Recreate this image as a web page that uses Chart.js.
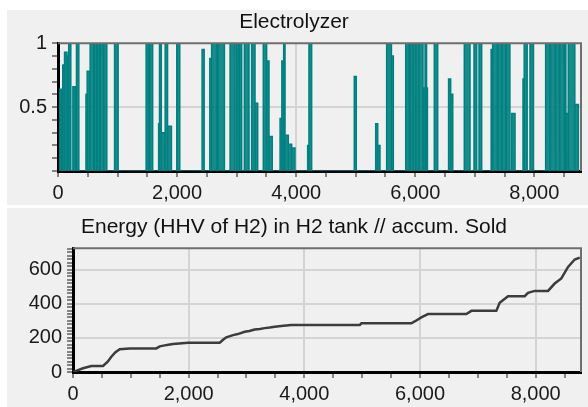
<!DOCTYPE html>
<html>
<head>
<meta charset="utf-8">
<script src="https://cdn.jsdelivr.net/npm/chart.js@4"></script>
<style>
  body { margin: 0; background: #fff; width: 588px; height: 407px; position: relative; overflow: hidden; }
  canvas { position: absolute; }
  #elec { left: 7px; top: 10px; }
  #tank { left: 7px; top: 208px; }
</style>
</head>
<body>
<canvas id="elec" width="581" height="195"></canvas>
<canvas id="tank" width="581" height="199"></canvas>
<script>
// electrolyzer load: each run is [start hour, end hour] at a load level (0..1)
const elecStart = [30, 80, 110, 150, 180, 250, 310, 470, 490, 540, 610, 660, 710, 770, 950, 1480, 1540,
  1690, 1705, 1735, 1800, 1840, 1995, 2420, 2550, 2580, 2690, 2890, 3000, 3050, 3130, 3252, 3309,
  3448, 3504, 3544, 3730, 3760, 3790, 3813, 3868, 3925, 4193, 4215, 4976, 5336, 5370, 5520, 5600,
  5840, 5905, 5915, 5965, 6015, 6065, 6135, 6165, 6190, 6320, 6560, 6595, 6824, 6987, 7071, 7275,
  7300, 7390, 7460, 7530, 7620, 7810, 7830, 7927, 8190, 8270, 8360, 8430, 8510, 8530, 8570, 8680]
const elecEnd = [60, 110, 150, 180, 215, 290, 350, 490, 530, 600, 650, 700, 760, 820, 1010, 1520, 1590,
  1705, 1735, 1790, 1840, 1905, 2045, 2455, 2580, 2665, 2795, 2973, 3040, 3085, 3208, 3309, 3354,
  3504, 3544, 3599, 3760, 3790, 3813, 3868, 3925, 3980, 4215, 4260, 5010, 5370, 5408, 5600, 5632,
  5896, 5915, 5960, 6010, 6060, 6130, 6165, 6190, 6205, 6377, 6595, 6630, 6920, 7032, 7116, 7300,
  7380, 7450, 7520, 7590, 7676, 7830, 7880, 7983, 8260, 8350, 8420, 8500, 8530, 8570, 8680, 8740]
const elecLevel = [0.64, 0.83, 0.93, 0.9, 1, 0.66, 1, 0.6, 0.78, 1, 1, 1, 1, 1, 1, 1, 1,
  0.37, 1, 0.3, 1, 0.35, 1, 0.95, 0.88, 1, 1, 1, 1, 1, 1, 1, 0.53,
  1, 0.86, 0.27, 0.41, 0.86, 1, 0.28, 0.21, 0.18, 0.2, 1, 0.74, 0.37, 0.2, 1, 0.9,
  1, 0.85, 1, 1, 1, 1, 0.65, 1, 0.65, 1, 0.72, 0.6, 1, 1, 1, 0.95,
  1, 1, 1, 1, 0.45, 0.72, 1, 1, 1, 1, 1, 1, 1, 0.45, 1, 0.52]

// accumulated energy sold (H2 tank)
const soldHours = [0, 173, 317, 519, 600, 663, 730, 807, 980, 1441, 1500, 1585, 1650, 1729, 1989, 2537,
  2600, 2651, 2767, 2850, 2969, 3050, 3142, 3230, 3315, 3400, 3488, 3600, 3775, 4958, 4986, 5850,
  5908, 6023, 6138, 6801, 6888, 7320, 7378, 7522, 7810, 7868, 7983, 8214, 8329, 8444, 8560, 8675,
  8762]
const soldEnergy = [0, 22, 35, 35, 60, 89, 115, 133, 138, 138, 150, 156, 160, 164, 171, 171,
  190, 203, 216, 222, 236, 240, 249, 252, 257, 260, 265, 270, 275, 275, 285, 285,
  296, 320, 339, 339, 358, 358, 405, 444, 444, 464, 475, 475, 518, 548, 615, 659,
  670]

const HOURS = 8784
const FONT = "'Liberation Sans', Arial, sans-serif"
const TEAL = "rgb(0, 128, 128)"

const elecPoints = []
elecStart.forEach((s, i) => {
    elecPoints.push({ x: s, y: 0 }, { x: s, y: elecLevel[i] }, { x: elecEnd[i], y: elecLevel[i] }, { x: elecEnd[i], y: 0 })
})
const soldPoints = soldHours.map((h, i) => ({ x: h, y: soldEnergy[i] }))

const panel = {
    id: "panel",
    beforeDraw(chart) {
        const ctx = chart.ctx
        ctx.save()
        ctx.fillStyle = "#f0f0f0"
        ctx.fillRect(0, 0, chart.width, chart.height)
        ctx.restore()
    },
    afterDatasetsDraw(chart) {
        const { ctx, chartArea: a } = chart
        ctx.save()
        ctx.strokeStyle = "#6e6e6e"
        ctx.lineWidth = 2
        ctx.beginPath()
        ctx.moveTo(a.left, a.top)
        ctx.lineTo(a.right, a.top)
        ctx.lineTo(a.right, a.bottom)
        ctx.stroke()
        ctx.restore()
    },
}

const near = (a, b) => Math.abs(a - b) < 1e-6

function xAxis(height) {
    return {
        type: "linear",
        min: 0,
        max: HOURS,
        afterBuildTicks: (scale) => {
            scale.ticks = []
            for (let v = 0; v <= HOURS; v += 500) scale.ticks.push({ value: v })
        },
        afterFit: (scale) => { scale.height = height },
        ticks: {
            autoSkip: false,
            maxRotation: 0,
            padding: 4,
            color: "#1a1a1a",
            font: { family: FONT, size: 20 },
            callback: (v) => (v % 2000 === 0 ? v.toLocaleString("en-US") : ""),
        },
        grid: {
            color: (c) => (c.tick && c.tick.value % 2000 === 0 && c.tick.value > 0 ? "#d4d4d4" : "transparent"),
            lineWidth: 2,
            tickColor: "#606060",
            tickLength: 6,
            tickWidth: 1.5,
        },
        border: { display: true, color: "#000", width: 3 },
    }
}

function yAxis(width, max, step, isMajor, label) {
    return {
        min: 0,
        max,
        afterBuildTicks: (scale) => {
            scale.ticks = []
            for (let i = 0; i * step <= max + 1e-9; i++) scale.ticks.push({ value: Math.round(i * step * 1000) / 1000 })
        },
        afterFit: (scale) => { scale.width = width },
        ticks: {
            autoSkip: false,
            padding: 5,
            color: "#1a1a1a",
            font: { family: FONT, size: 20 },
            callback: label,
        },
        grid: {
            color: (c) => (c.tick && isMajor(c.tick.value) && c.tick.value > 0 && !near(c.tick.value, max) ? "#d4d4d4" : "transparent"),
            lineWidth: 2,
            tickColor: "#606060",
            tickLength: 6,
            tickWidth: 1.5,
        },
        border: { display: true, color: "#000", width: 3 },
    }
}

function titleOpts(text, top) {
    return {
        display: true,
        text,
        color: "#111",
        font: { family: FONT, size: 21, weight: "normal" },
        padding: { top, bottom: 8 },
    }
}

new Chart(document.getElementById("elec"), {
    type: "line",
    data: {
        datasets: [{
            data: elecPoints,
            borderColor: TEAL,
            backgroundColor: "rgba(0, 128, 128, 0.9)",
            borderWidth: 1.5,
            fill: "origin",
            pointRadius: 0,
            tension: 0,
        }],
    },
    options: {
        responsive: false,
        animation: false,
        devicePixelRatio: 1,
        layout: { padding: { left: 0, right: 7, top: 0, bottom: 0 } },
        plugins: {
            legend: { display: false },
            tooltip: { enabled: false },
            title: titleOpts("Electrolyzer", 0),
        },
        scales: {
            x: xAxis(34),
            y: yAxis(51, 1, 0.1, (v) => near(v, 0.5), (v) => (near(v, 1) ? "1" : near(v, 0.5) ? "0.5" : "")),
        },
    },
    plugins: [panel],
})

new Chart(document.getElementById("tank"), {
    type: "line",
    data: {
        datasets: [{
            data: soldPoints,
            borderColor: "#3c3c3c",
            borderWidth: 2.5,
            fill: false,
            pointRadius: 0,
            tension: 0,
        }],
    },
    options: {
        responsive: false,
        animation: false,
        devicePixelRatio: 1,
        layout: { padding: { left: 0, right: 7, top: 0, bottom: 0 } },
        plugins: {
            legend: { display: false },
            tooltip: { enabled: false },
            title: titleOpts("Energy (HHV of H2) in H2 tank // accum. Sold", 7),
        },
        scales: {
            x: xAxis(35),
            y: yAxis(66, 725, 20, (v) => v % 200 === 0, (v) => (v % 200 === 0 ? String(v) : "")),
        },
    },
    plugins: [panel],
})
</script>
</body>
</html>
